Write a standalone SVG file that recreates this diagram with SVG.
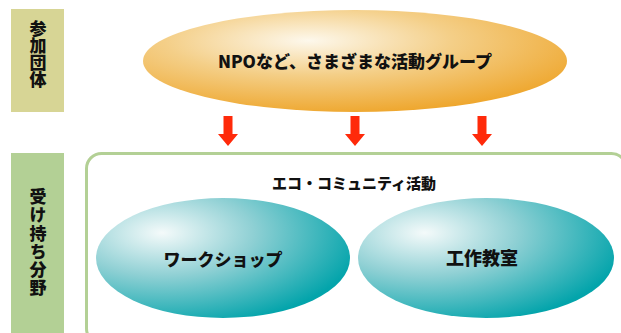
<svg xmlns="http://www.w3.org/2000/svg" width="621" height="333" viewBox="0 0 621 333">
<defs>
<style>
.t{font-family:"Noto Sans CJK JP","Noto Sans",sans-serif;font-weight:900;fill:#111;text-anchor:middle;dominant-baseline:central}
.v{font-family:"Noto Sans CJK JP","Noto Sans",sans-serif;font-weight:900;fill:#111;writing-mode:vertical-rl;text-anchor:start}
.arr{fill:#ff2a0a}
</style>
<radialGradient id="org" cx="0.39" cy="0.3" fx="0.39" fy="0.3" r="0.75">
<stop offset="0" stop-color="#fdf8ec"/>
<stop offset="0.45" stop-color="#f4cf88"/>
<stop offset="1" stop-color="#eea428"/>
</radialGradient>
<radialGradient id="teal" cx="0.26" cy="0.29" fx="0.26" fy="0.29" r="0.8">
<stop offset="0" stop-color="#f4fafa"/>
<stop offset="0.45" stop-color="#8fd0d4"/>
<stop offset="1" stop-color="#03a4ab"/>
</radialGradient>
<path id="arrow" d="M-4.5,0 H4.5 V18 H10 L0,30 L-10,18 H-4.5 Z"/>
</defs>
<rect width="621" height="333" fill="#fff"/>
<g id="label-sanka">
<rect x="11" y="9" width="53" height="103" fill="#d7d595"/>
<text class="v" x="38" y="20" font-size="17">参加団体</text>
</g>
<g id="label-ukemochi">
<rect x="11" y="153" width="53" height="180" fill="#b3d095"/>
<text class="v" x="38" y="188" font-size="17" letter-spacing="1.3">受け持ち分野</text>
</g>
<g id="npo">
<ellipse cx="355" cy="61" rx="212" ry="51" fill="url(#org)"/>
<text class="t" x="355" y="60" font-size="17">NPOなど、さまざまな活動グループ</text>
</g>
<g id="connectors">
<use href="#arrow" class="arr" x="228" y="116"/>
<use href="#arrow" class="arr" x="355" y="116"/>
<use href="#arrow" class="arr" x="482" y="116"/>
</g>
<g id="eco">
<rect x="86.5" y="153.5" width="540" height="190" rx="15" fill="none" stroke="#b3d095" stroke-width="3"/>
<text class="t" x="354" y="182" font-size="15">エコ・コミュニティ活動</text>
</g>
<g id="workshop">
<ellipse cx="223" cy="258" rx="127" ry="60" fill="url(#teal)"/>
<text class="t" x="223" y="258" font-size="17">ワークショップ</text>
</g>
<g id="kousaku">
<ellipse cx="486" cy="258" rx="128" ry="60" fill="url(#teal)"/>
<text class="t" x="482" y="257" font-size="18">工作教室</text>
</g>
</svg>
